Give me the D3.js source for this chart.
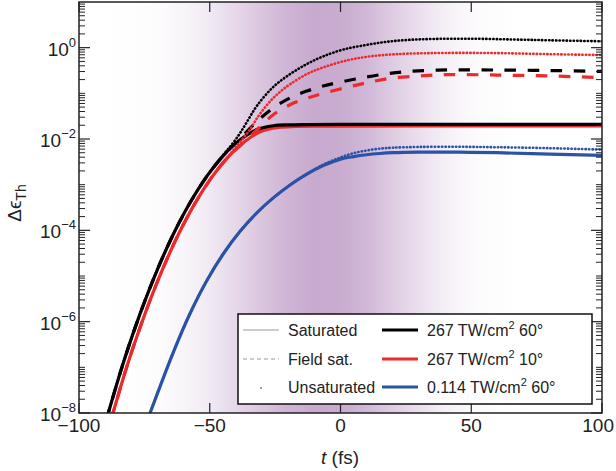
<!DOCTYPE html>
<html>
<head>
<meta charset="utf-8">
<script src="https://cdn.jsdelivr.net/npm/d3@7"></script>
<style>
  body { margin: 0; background: #fff; }
  svg { display: block; }
  text { font-family: "Liberation Sans", Arial, Helvetica, sans-serif; fill: #222; }
</style>
</head>
<body>
<svg id="chart" width="616" height="471"></svg>
<script>
// t (fs), delta epsilon_Th
var black60Sat = [[-92,2.3e-9],[-88.8,1.0e-8],[-83.1,1.23e-7],[-76.7,1.46e-6],[-70.3,1.27e-5],[-63.9,8.28e-5],[-57.5,4.06e-4],[-51.2,1.5e-3],[-44.8,4.34e-3],[-38.4,9.6e-3],[-32,1.61e-2],[-25.7,1.95e-2],[-19,2.04e-2],[-12.9,2.07e-2],[0,2.09e-2],[25,2.1e-2],[50,2.1e-2],[75,2.1e-2],[100,2.1e-2]];
var black60Field = [[-92,2.3e-9],[-88.8,1.0e-8],[-83.1,1.23e-7],[-76.7,1.46e-6],[-70.3,1.27e-5],[-63.9,8.28e-5],[-57.5,4.06e-4],[-51.2,1.5e-3],[-44.8,4.34e-3],[-38.4,1.02e-2],[-32,2.4e-2],[-25.7,4.79e-2],[-19.3,7.94e-2],[-12.9,0.112],[-6.6,0.145],[1.1,0.182],[10,0.229],[18,0.269],[26,0.302],[35,0.32],[45,0.326],[60,0.324],[80,0.316],[100,0.302]];
var black60Unsat = [[-92,2.3e-9],[-88.8,1.0e-8],[-83.1,1.23e-7],[-76.7,1.46e-6],[-70.3,1.27e-5],[-63.9,8.28e-5],[-57.5,4.06e-4],[-51.2,1.5e-3],[-44.8,4.5e-3],[-41,8.3e-3],[-38.4,1.35e-2],[-35.9,2.3e-2],[-32,5.3e-2],[-25.7,0.138],[-19.3,0.263],[-12.9,0.437],[-6.6,0.646],[1.1,0.912],[10,1.15],[18,1.35],[26,1.48],[35,1.55],[50,1.57],[66,1.51],[80,1.45],[100,1.38]];

var red10Sat = [[-90.2,2.3e-9],[-87,1.0e-8],[-81.3,1.23e-7],[-74.9,1.42e-6],[-68.5,1.22e-5],[-62.1,7.9e-5],[-55.7,3.85e-4],[-49.4,1.41e-3],[-43,4.0e-3],[-36.6,8.8e-3],[-30.2,1.48e-2],[-23.9,1.79e-2],[-17,1.88e-2],[-10,1.91e-2],[0,1.92e-2],[50,1.93e-2],[100,1.93e-2]];
var red10Field = [[-90.2,2.3e-9],[-87,1.0e-8],[-81.3,1.23e-7],[-74.9,1.42e-6],[-68.5,1.22e-5],[-62.1,7.9e-5],[-55.7,3.85e-4],[-49.4,1.41e-3],[-43,4.0e-3],[-36.6,8.8e-3],[-32,1.58e-2],[-28.2,2.57e-2],[-25.7,3.39e-2],[-19.3,5.62e-2],[-12.9,7.76e-2],[-6.6,0.1],[2.4,0.135],[10,0.17],[19,0.214],[30,0.24],[40.6,0.257],[60,0.251],[80,0.24],[100,0.221]];
var red10Unsat = [[-90.2,2.3e-9],[-87,1.0e-8],[-81.3,1.23e-7],[-74.9,1.42e-6],[-68.5,1.22e-5],[-62.1,7.9e-5],[-55.7,3.85e-4],[-49.4,1.41e-3],[-43,4.1e-3],[-38.6,8.3e-3],[-34.6,1.62e-2],[-32,2.82e-2],[-28.8,5.0e-2],[-25.7,7.9e-2],[-22.5,0.115],[-19.3,0.158],[-12.9,0.263],[-6.6,0.37],[2.4,0.525],[10,0.63],[18,0.7],[26,0.74],[40,0.766],[60,0.76],[80,0.72],[100,0.69]];

var blue60Sat = [[-74,6.6e-9],[-63.9,2.16e-7],[-57.5,1.53e-6],[-51.2,7.8e-6],[-44.8,3.07e-5],[-38.4,9.5e-5],[-32,2.42e-4],[-25.7,5.14e-4],[-19.3,9.84e-4],[-12.9,1.7e-3],[-6.6,2.62e-3],[0,3.63e-3],[5,4.12e-3],[10,4.52e-3],[15,4.81e-3],[20,5.01e-3],[30,5.15e-3],[45,5.15e-3],[60,5.01e-3],[80,4.68e-3],[100,4.4e-3]];
var blue60Unsat = [[-74,6.6e-9],[-63.9,2.16e-7],[-57.5,1.53e-6],[-51.2,7.8e-6],[-44.8,3.07e-5],[-38.4,9.5e-5],[-32,2.42e-4],[-25.7,5.14e-4],[-19.3,9.84e-4],[-12.9,1.7e-3],[-6.6,2.75e-3],[0,3.95e-3],[5,4.9e-3],[10,5.6e-3],[15,6.15e-3],[20,6.45e-3],[30,6.7e-3],[45,6.75e-3],[60,6.6e-3],[80,6.3e-3],[100,5.85e-3]];

// pulse shading: t (fs), relative strength
var shadeT = [-100,-80,-70,-60,-50,-40,-30,-20,-10,0,10,20,30,40,50,60,70,100];
var shadeA = [0,0.01,0.04,0.12,0.26,0.46,0.68,0.88,1,0.98,0.84,0.6,0.38,0.18,0.07,0.02,0,0];

var xTicks = [-100,-50,0,50,100];
var yMajor = [1e0,1e-2,1e-4,1e-6,1e-8];
var yExp = ["0","−2","−4","−6","−8"];

var styleLabels = ["Saturated","Field sat.","Unsaturated"];
var caseLabels = [["267 TW/cm","2"," 60°"],["267 TW/cm","2"," 10°"],["0.114 TW/cm","2"," 60°"]];

var black = "#000000", red = "#ec2a2c", blue = "#2a53a6";

var svg = d3.select("#chart");
var dim = {left: 79, right: 602, top: 2, bottom: 413};

var xScale = d3.scaleLinear().domain([-100,100]).range([dim.left, dim.right]);
var yScale = d3.scaleLog().domain([1e-8,1e1]).range([dim.bottom, dim.top]);

// background gradient
var defs = svg.append("defs");
var grad = defs.append("linearGradient")
  .attr("id","pulse")
  .attr("gradientUnits","userSpaceOnUse")
  .attr("x1", xScale(-100)).attr("x2", xScale(100))
  .attr("y1", 0).attr("y2", 0);
grad.selectAll("stop").data(shadeT).enter().append("stop")
  .attr("offset", function(d) { return (d + 100) / 200; })
  .attr("stop-color", "#c8aacf")
  .attr("stop-opacity", function(d, i) { return shadeA[i]; });

defs.append("clipPath").attr("id","plotClip").append("rect")
  .attr("x", dim.left).attr("y", dim.top)
  .attr("width", dim.right - dim.left).attr("height", dim.bottom - dim.top);

svg.append("rect")
  .attr("x", dim.left).attr("y", dim.top)
  .attr("width", dim.right - dim.left).attr("height", dim.bottom - dim.top)
  .attr("fill", "url(#pulse)");

var line = d3.line()
  .x(function(d) { return xScale(d[0]); })
  .y(function(d) { return yScale(d[1]); })
  .curve(d3.curveCatmullRom.alpha(0.5));

var plot = svg.append("g").attr("clip-path","url(#plotClip)");

function drawCurve(data, color, kind) {
  var p = plot.append("path")
    .datum(data)
    .attr("d", line)
    .attr("fill", "none")
    .attr("stroke", color);
  if (kind == "solid") {
    p.attr("stroke-width", 3.2);
  } else if (kind == "dash") {
    p.attr("stroke-width", 3.2).attr("stroke-dasharray", "11.5,11.5");
  } else {
    p.attr("stroke-width", 2.6).attr("stroke-dasharray", "0.4,3.1").attr("stroke-linecap","round");
  }
}

drawCurve(blue60Sat, blue, "solid");
drawCurve(blue60Unsat, blue, "dot");
drawCurve(red10Sat, red, "solid");
drawCurve(black60Sat, black, "solid");
drawCurve(red10Field, red, "dash");
drawCurve(black60Field, black, "dash");
drawCurve(red10Unsat, red, "dot");
drawCurve(black60Unsat, black, "dot");

// ticks (inward, mirrored)
var axes = svg.append("g").attr("stroke", "#222");
var minorY = [];
for (var e = -8; e < 1; e++) {
  for (var k = 1; k < 10; k++) {
    var v = k * Math.pow(10, e);
    if (!(k == 1 && e % 2 == 0)) minorY.push(v);
  }
}
minorY.forEach(function(v) {
  var y = yScale(v);
  axes.append("line").attr("x1", dim.left).attr("x2", dim.left + 6).attr("y1", y).attr("y2", y).attr("stroke-width", 1);
  axes.append("line").attr("x1", dim.right).attr("x2", dim.right - 6).attr("y1", y).attr("y2", y).attr("stroke-width", 1);
});
yMajor.forEach(function(v) {
  var y = yScale(v);
  axes.append("line").attr("x1", dim.left).attr("x2", dim.left + 11).attr("y1", y).attr("y2", y).attr("stroke-width", 1.2);
  axes.append("line").attr("x1", dim.right).attr("x2", dim.right - 11).attr("y1", y).attr("y2", y).attr("stroke-width", 1.2);
});
xTicks.forEach(function(v) {
  var x = xScale(v);
  axes.append("line").attr("x1", x).attr("x2", x).attr("y1", dim.bottom).attr("y2", dim.bottom - 10).attr("stroke-width", 1.2);
  axes.append("line").attr("x1", x).attr("x2", x).attr("y1", dim.top).attr("y2", dim.top + 10).attr("stroke-width", 1.2);
});

// legend
var lg = svg.append("g");
lg.append("rect").attr("x", 238).attr("y", 314).attr("width", 354).attr("height", 90)
  .attr("fill", "#fff").attr("stroke", "#111").attr("stroke-width", 1.5);
var rowY = [330, 359, 387];
lg.append("line").attr("x1", 243).attr("x2", 279).attr("y1", rowY[0]).attr("y2", rowY[0])
  .attr("stroke", "#9a9a9a").attr("stroke-width", 1);
lg.append("line").attr("x1", 243).attr("x2", 279).attr("y1", rowY[1]).attr("y2", rowY[1])
  .attr("stroke", "#9a9a9a").attr("stroke-width", 1).attr("stroke-dasharray", "4,3");
lg.append("circle").attr("cx", 261).attr("cy", rowY[2] + 1).attr("r", 1.1).attr("fill", "#888");
styleLabels.forEach(function(s, i) {
  lg.append("text").attr("x", 288).attr("y", rowY[i] + 6).attr("font-size", 16).text(s);
});
[black, red, blue].forEach(function(c, i) {
  lg.append("line").attr("x1", 382).attr("x2", 418).attr("y1", rowY[i]).attr("y2", rowY[i])
    .attr("stroke", c).attr("stroke-width", 3);
  var t = lg.append("text").attr("x", 427).attr("y", rowY[i] + 6).attr("font-size", 16);
  t.append("tspan").text(caseLabels[i][0]);
  t.append("tspan").attr("font-size", 11).attr("dy", -7).text(caseLabels[i][1]);
  t.append("tspan").attr("dy", 7).text(caseLabels[i][2]);
});

// frame
svg.append("rect")
  .attr("x", dim.left).attr("y", dim.top)
  .attr("width", dim.right - dim.left).attr("height", dim.bottom - dim.top)
  .attr("fill", "none").attr("stroke", "#222").attr("stroke-width", 1.5);

// tick labels
xTicks.forEach(function(v, i) {
  var last = (i == xTicks.length - 1);
  svg.append("text").attr("x", last ? 614 : xScale(v)).attr("y", 432)
    .attr("text-anchor", last ? "end" : "middle").attr("font-size", 19)
    .text(v < 0 ? "−" + Math.abs(v) : v);
});
yMajor.forEach(function(v, i) {
  var t = svg.append("text").attr("x", 76).attr("y", yScale(v) + 8)
    .attr("text-anchor", "end").attr("font-size", 19);
  t.append("tspan").text("10");
  t.append("tspan").attr("font-size", 13).attr("dy", -9).text(yExp[i]);
});

// axis titles
var xl = svg.append("text").attr("x", 340).attr("y", 464)
  .attr("text-anchor", "middle").attr("font-size", 19);
xl.append("tspan").attr("font-style", "italic").text("t");
xl.append("tspan").text(" (fs)");

var yl = svg.append("text").attr("transform", "translate(21,203) rotate(-90)")
  .attr("text-anchor", "middle").attr("font-size", 19);
yl.append("tspan").text("Δϵ");
yl.append("tspan").attr("font-size", 14).attr("dy", 5).text("Th");
</script>
</body>
</html>
